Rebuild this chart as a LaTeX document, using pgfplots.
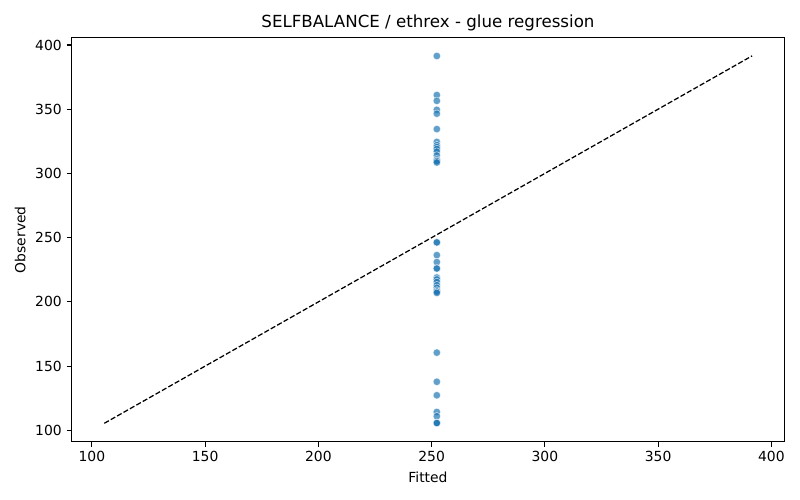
\documentclass[border=0pt]{standalone}
\usepackage{pgfplots}
\pgfplotsset{compat=1.18}
\usepackage{fontspec}
\setmainfont{DejaVu Sans}
\usetikzlibrary{calc}
\definecolor{mplblue}{HTML}{1F77B4}
\pgfplotstableread{
x y
252.3 391.4
252.3 361.0
252.3 356.5
252.3 349.5
252.3 346.5
252.3 334.5
252.3 324.5
252.3 322.0
252.3 320.5
252.3 319.0
252.3 317.0
252.3 314.0
252.3 311.0
252.3 310.0
252.3 309.5
252.3 308.5
252.3 246.3
252.3 246.3
252.3 236.4
252.3 231.0
252.3 226.0
252.3 226.0
252.3 219.0
252.3 217.5
252.3 215.5
252.3 213.0
252.3 211.0
252.3 209.0
252.3 208.0
252.3 208.0
252.3 207.0
252.3 160.5
252.3 137.8
252.3 127.3
252.3 114.3
252.3 111.0
252.3 106.0
252.3 105.7
252.3 105.7
}\pts
\begin{document}
\fontsize{10bp}{12bp}\selectfont
\begin{tikzpicture}
\begin{axis}[
  scale only axis, width=513.4bp, height=291.2bp,
  xmin=91, xmax=405.8, ymin=91, ymax=405.8,
  xtick={100,150,...,400}, ytick={100,150,...,400},
  tick align=outside, major tick length=3.5bp,
  tick style={line width=0.8bp, black},
  axis line style={line width=0.8bp},
  tick pos=left,
  /pgf/number format/assume math mode=true,
  ticklabel style={font=\fontsize{10bp}{12bp}\selectfont},
  xlabel={Fitted}, ylabel={Observed},
  label style={font=\fontsize{10bp}{12bp}\selectfont},
  title={SELFBALANCE / ethrex - glue regression},
  title style={font=\fontsize{12bp}{14bp}\selectfont, yshift=-4.5bp},
]
\addplot[black, line width=0.9bp, dash pattern=on 3.7bp off 1.6bp] coordinates {(105.5,105.5) (391.5,391.5)};
\addplot[only marks, mark=*, mark size=2.7bp,
  mark options={fill=mplblue, draw=white, line width=0.4bp, fill opacity=0.7, draw opacity=0.7}]
  table[x=x,y=y] {\pts};
\end{axis}
\pgfresetboundingbox
\path ($(current axis.south west)+(-51.48bp,-41.76bp)$) rectangle ($(current axis.north east)+(11.16bp,27bp)$);
\end{tikzpicture}
\end{document}
